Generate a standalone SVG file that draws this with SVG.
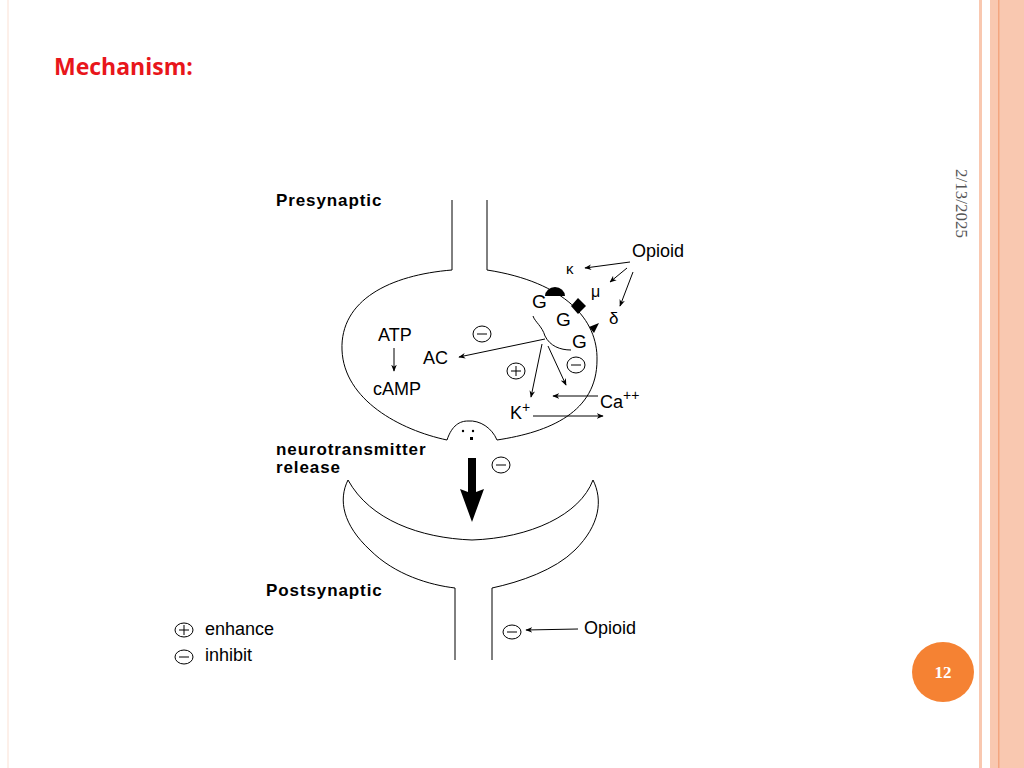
<svg xmlns="http://www.w3.org/2000/svg" width="1024" height="768" viewBox="0 0 1024 768">
<defs>
<style>
.l{fill:none;stroke:#000;stroke-width:1}
.t{font-family:"Liberation Sans",Arial,sans-serif;fill:#000}
.b{font-family:"Liberation Sans",Arial,sans-serif;font-weight:bold;fill:#000;font-size:17px;letter-spacing:0.9px}
.c{fill:none;stroke:#000;stroke-width:1}
</style>
<marker id="a" viewBox="0 0 10 10" refX="9" refY="5" markerWidth="7" markerHeight="7" orient="auto"><path d="M0,1 L10,5 L0,9 L3,5z" fill="#000"/></marker>
</defs>
<rect width="1024" height="768" fill="#fff"/>
<rect x="979" y="0" width="3" height="768" fill="#f9c8b0"/>
<rect x="990" y="0" width="34" height="768" fill="#f9c8b0"/>
<rect x="998" y="0" width="1.5" height="768" fill="#f3a57f"/>
<line x1="8" y1="0" x2="8" y2="768" stroke="#fbe0d3" stroke-width="1"/>
<text x="54" y="75" font-family="'Open Sans','Liberation Sans',sans-serif" font-weight="bold" font-size="23" fill="#e8161b">Mechanism:</text>
<text transform="translate(956,169) rotate(90)" font-family="'Liberation Serif',serif" font-size="17" fill="#555">2/13/2025</text>
<g id="page"><ellipse cx="943" cy="672" rx="31" ry="30" fill="#f58233"/><text x="943" y="678" text-anchor="middle" font-family="'Liberation Serif',serif" font-weight="bold" font-size="17" fill="#fff">12</text></g>

<g id="presynaptic">
<path class="l" d="M452,200 V270 M487,200 V270"/>
<path class="l" d="M452,270 C390,275 340,300 342,350 C344,400 400,430 447,440 C452,425 460,421 468,421 C480,420 492,428 497,440 C550,432 597,412 597,360 C598,320 565,282 487,270"/>
<text class="b" x="276" y="206">Presynaptic</text>
<path d="M545,296 A10,9 0 0 1 565,296 Z" fill="#000"/>
<path d="M578,298 L586,306 L578,314 L571,306 Z" fill="#000"/>
<path d="M589,327 L599,323 L594,333 Z" fill="#000"/>
<circle cx="463" cy="431" r="1.2"/><circle cx="473" cy="431" r="1.2"/><rect x="470" y="437" width="3" height="3"/>
</g>
<g id="labels" class="t" font-size="18">
<text x="632" y="257">Opioid</text>
<text x="566" y="274" font-size="15">κ</text>
<text x="591" y="297" font-size="16">μ</text>
<text x="609" y="324" font-size="17">δ</text>
<text x="532" y="308" font-size="19">G</text>
<text x="556" y="326" font-size="19">G</text>
<text x="572" y="348" font-size="19">G</text>
<text x="378" y="341">ATP</text>
<text x="373" y="395">cAMP</text>
<text x="423" y="364">AC</text>
<text x="600" y="408">Ca<tspan dy="-8" font-size="14">++</tspan></text>
<text x="510" y="419">K<tspan dy="-7" font-size="14">+</tspan></text>
<text x="584" y="634">Opioid</text>
<text x="205" y="635">enhance</text>
<text x="205" y="661">inhibit</text>
</g>
<g id="signs">
<ellipse class="c" cx="482" cy="334" rx="9" ry="8"/><line class="l" x1="477" y1="334" x2="487" y2="334"/>
<ellipse class="c" cx="516" cy="371" rx="9" ry="8"/><path class="l" d="M511,371 H521 M516,366 V376"/>
<ellipse class="c" cx="576" cy="365" rx="9" ry="8"/><line class="l" x1="571" y1="365" x2="581" y2="365"/>
<ellipse class="c" cx="501" cy="465" rx="9" ry="8"/><line class="l" x1="496" y1="465" x2="506" y2="465"/>
<ellipse class="c" cx="512" cy="632" rx="9" ry="7"/><line class="l" x1="507" y1="632" x2="517" y2="632"/>
<ellipse class="c" cx="184" cy="630" rx="9" ry="7"/><path class="l" d="M179,630 H189 M184,625 V635"/>
<ellipse class="c" cx="184" cy="657" rx="9" ry="7"/><line class="l" x1="179" y1="657" x2="189" y2="657"/>
</g>
<g id="connectors" class="l">
<line x1="630" y1="262" x2="585" y2="268" marker-end="url(#a)"/>
<line x1="627" y1="268" x2="610" y2="282" marker-end="url(#a)"/>
<line x1="633" y1="272" x2="620" y2="306" marker-end="url(#a)"/>
<path d="M533,316 C535,322 542,326 545,336 C550,346 560,350 571,350"/>
<line x1="545" y1="339" x2="459" y2="357" marker-end="url(#a)"/>
<line x1="542" y1="344" x2="531" y2="397" marker-end="url(#a)"/>
<line x1="548" y1="346" x2="566" y2="385" marker-end="url(#a)"/>
<line x1="394" y1="348" x2="394" y2="371" marker-end="url(#a)"/>
<line x1="598" y1="396" x2="553" y2="396" marker-end="url(#a)"/>
<line x1="533" y1="416" x2="603" y2="416" marker-end="url(#a)"/>
<line x1="578" y1="629" x2="526" y2="630" marker-end="url(#a)"/>
<path d="M468,458 H476 V492 L484,489 L472,522 L460,489 L468,492 Z" fill="#000" stroke="none"/>
</g>
<g id="postsynaptic">
<path class="l" d="M348,480 C370,520 420,538 472,540 C530,538 580,515 593,480"/>
<path class="l" d="M348,480 C338,500 343,525 370,550 C395,575 430,585 455,588 V660"/>
<path class="l" d="M593,480 C603,500 600,525 575,550 C555,570 520,582 492,588 V660"/>
<text class="b" x="276" y="455">neurotransmitter</text>
<text class="b" x="276" y="473">release</text>
<text class="b" x="266" y="596">Postsynaptic</text>
</g>
</svg>
